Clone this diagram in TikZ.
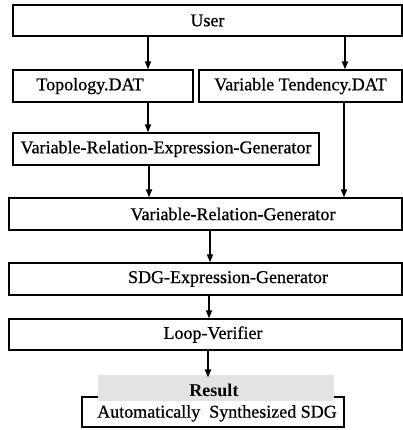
\documentclass[tikz,border=0pt]{standalone}
\usepackage{fontspec}
\setmainfont{Liberation Serif}
\newfontfamily\tms[FakeBold=0.7]{Liberation Serif}
\usetikzlibrary{arrows.meta}
\begin{document}
\begin{tikzpicture}[x=0.75pt,y=-0.75pt,
  box/.style={draw,line width=1.1pt,rectangle,inner sep=0pt,minimum height=24pt,font=\tms\fontsize{13.5}{15}\selectfont},
  txt/.style={font=\tms\fontsize{13.5}{15}\selectfont,inner sep=0pt},
  arr/.style={line width=1.1pt,-{Triangle[length=6pt,width=4.6pt]}}]
\useasboundingbox (0,0) rectangle (403,430);
\node[box,minimum width=291.75pt,minimum height=23.25pt] (user) at (207.5,20.5) {User};
\node[box,minimum width=135pt] (topo) at (103,86) {};
\node[txt] at ([xshift=-9.75pt]topo.center) {Topology.DAT};
\node[box,minimum width=152.25pt] (vt) at (300.5,86) {Variable Tendency.DAT};
\node[box,minimum width=229.5pt] (vreg) at (166,149) {Variable-Relation-Expression-Generator};
\node[box,minimum width=294.75pt] (vrg) at (205.5,214) {};
\node[txt] at ([xshift=20.6pt]vrg.center) {Variable-Relation-Generator};
\node[box,minimum width=294.75pt] (sdg) at (205.5,279) {};
\node[txt] at ([xshift=16.9pt]sdg.center) {SDG-Expression-Generator};
\node[box,minimum width=294.75pt,minimum height=23.25pt] (loop) at (205.5,334.5) {};
\node[txt] at ([xshift=5.6pt]loop.center) {Loop-Verifier};
\node[box,minimum width=196.5pt,minimum height=22.5pt] (res) at (213,412) {};
\node[txt] at ([xshift=3pt,yshift=-1pt]res.center) {Automatically\ \ Synthesized SDG};
\node[rectangle,fill=black!11,minimum width=177pt,minimum height=19.5pt,inner sep=0pt] (reslabel) at (216,388) {};
\node[txt,font=\rmfamily\fontsize{13.5}{15}\selectfont\bfseries] at (214,390) {Result};
\coordinate (xa) at (148,0);
\coordinate (xb) at (345,0);
\coordinate (xc) at (149,0);
\coordinate (xd) at (344,0);
\coordinate (xe) at (210,0);
\coordinate (xf) at (209,0);
\coordinate (xg) at (208,0);
\draw[arr] (user.south -| xa) -- (topo.north -| xa);
\draw[arr] (user.south -| xb) -- (vt.north -| xb);
\draw[arr] (topo.south -| xa) -- (vreg.north -| xa);
\draw[arr] (vt.south -| xd) -- (vrg.north -| xd);
\draw[arr] (vreg.south -| xc) -- (vrg.north -| xc);
\draw[arr] (vrg.south -| xe) -- (sdg.north -| xe);
\draw[arr] (sdg.south -| xf) -- (loop.north -| xf);
\draw[arr] (loop.south -| xg) -- ([yshift=-2pt]reslabel.north -| xg);
\end{tikzpicture}
\end{document}
